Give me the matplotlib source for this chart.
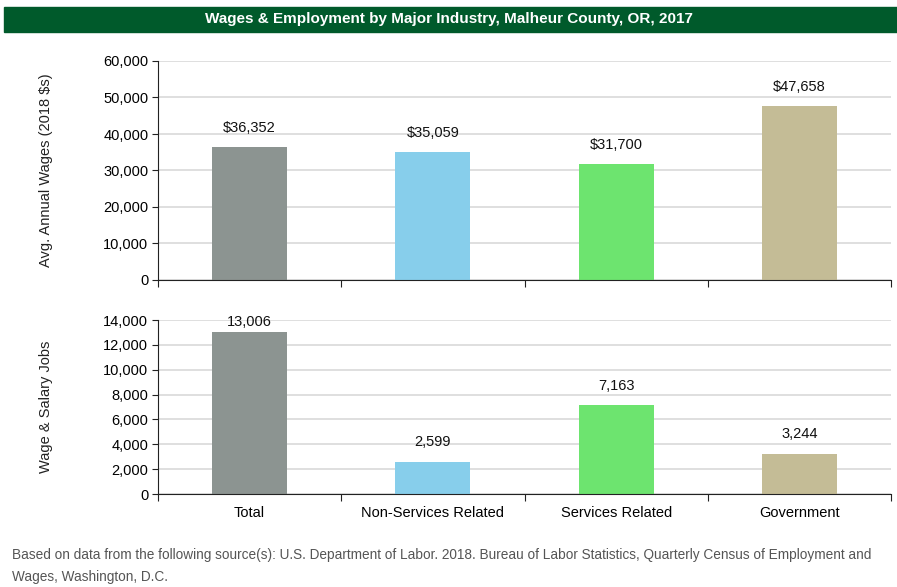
import numpy as np
import matplotlib.pyplot as plt
from matplotlib.patches import Rectangle

plt.rcParams['font.family'] = ['Liberation Sans', 'DejaVu Sans']

industries = ["Total", "Non-Services Related", "Services Related", "Government"]
wages = [36352, 35059, 31700, 47658]
jobs = [13006, 2599, 7163, 3244]
bar_colors = ["#8c9491", "#87ceeb", "#6de46f", "#c4bc96"]

title = "Wages & Employment by Major Industry, Malheur County, OR, 2017"
source = ("Based on data from the following source(s): U.S. Department of Labor. 2018. "
          "Bureau of Labor Statistics, Quarterly Census of Employment and\n"
          "Wages, Washington, D.C.")

W, H = 897, 587
fig = plt.figure(figsize=(W / 100, H / 100), dpi=100)

# green title band
fig.patches.append(Rectangle((4 / W, 1 - 32 / H), 893 / W, 25 / H,
                             transform=fig.transFigure, color="#005a2b", zorder=0))
fig.text(0.5, 1 - 19.5 / H, title, color="white", fontsize=11, fontweight="bold",
         ha="center", va="center")

x = np.arange(len(industries))


def setup(ax, ymax, step):
    ax.set_xlim(-0.5, len(industries) - 0.5)
    ax.set_ylim(0, ymax)
    ax.set_yticks(np.arange(0, ymax + 1, step))
    ax.yaxis.set_major_formatter(plt.FuncFormatter(lambda v, p: f"{int(v):,}"))
    ax.grid(axis="y", color="#d9d9d9", linewidth=1.2)
    ax.set_axisbelow(True)
    for s in ["top", "right"]:
        ax.spines[s].set_visible(False)
    ax.spines["left"].set_color("#222222")
    ax.spines["bottom"].set_color("#222222")
    ax.tick_params(axis="y", labelsize=10.5, length=4, color="#222222", pad=3)
    ax.set_xticks(np.arange(len(industries) + 1) - 0.5)
    ax.tick_params(axis="x", length=5, color="#222222", labelbottom=False)


def label_bars(ax, vals, fmt, gap, ymax):
    for xi, v in zip(x, vals):
        y = v + gap
        # keep labels of tall bars tucked just above the bar
        if y + 0.08 * ymax > ymax * 1.02:
            y = v + gap * 0.25
        ax.text(xi, y, fmt.format(v), ha="center", va="bottom",
                fontsize=10.5, color="#111111", clip_on=False)


# wages panel
ax1 = fig.add_axes([158 / W, 1 - 280 / H, 733 / W, 219 / H])
setup(ax1, 60000, 10000)
ax1.bar(x, wages, width=0.41, color=bar_colors, edgecolor="none")
label_bars(ax1, wages, "${:,}", 3300, 60000)
ax1.set_ylabel("Avg. Annual Wages (2018 $s)", fontsize=10.5, color="#222222")

# jobs panel
ax2 = fig.add_axes([158 / W, 1 - 494 / H, 733 / W, 174 / H])
setup(ax2, 14000, 2000)
ax2.bar(x, jobs, width=0.41, color=bar_colors, edgecolor="none")
label_bars(ax2, jobs, "{:,}", 1000, 14000)
ax2.set_ylabel("Wage & Salary Jobs", fontsize=10.5, color="#222222")
for xi, name in zip(x, industries):
    ax2.text(xi, -0.07, name, transform=ax2.get_xaxis_transform(),
             ha="center", va="top", fontsize=10.5)

ax1.yaxis.set_label_coords(-0.143, 0.5)
ax2.yaxis.set_label_coords(-0.143, 0.5)

fig.text(12 / W, 1 - 566 / H, source, fontsize=9.8, color="#555555",
         ha="left", va="center", linespacing=1.75)

fig.savefig("out.png", dpi=100)
